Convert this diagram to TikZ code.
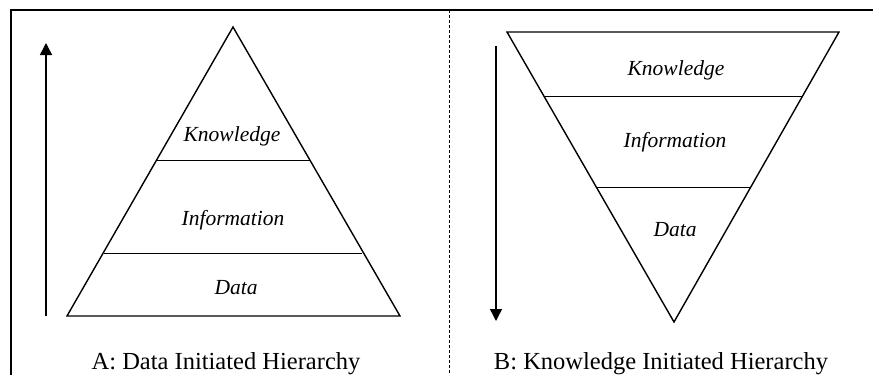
\documentclass[tikz,border=0pt]{standalone}
\usepackage{fontspec}
\setmainfont{Liberation Serif}
\usetikzlibrary{arrows.meta}
\begin{document}
\begin{tikzpicture}[x=1pt,y=-1pt,
  outline/.style={line width=1.4pt, line join=miter},
  layer/.style={line width=0.8pt},
  tier/.style={font=\fontsize{21.5}{24}\selectfont\itshape, inner sep=0pt, anchor=base},
  caption/.style={font=\fontsize{24.5}{27}\selectfont, inner sep=0pt, anchor=base},
  flow/.style={line width=1.4pt, -{Triangle[length=12pt,width=12pt]}}]
\useasboundingbox (0,0) rectangle (873,375);

% outer frame (top and left edges) and the dashed divider
\draw[line width=1.4pt] (11,375) -- (11,10) -- (873,10);
\draw[line width=0.7pt, dash pattern=on 3pt off 2pt] (449,10) -- (449,375);

% A: upright pyramid
\coordinate (aTop) at (233,27);
\coordinate (aBL) at (67,316);
\coordinate (aBR) at (400,316);
\draw[outline] (aBL) -- (aTop) -- (aBR) -- cycle;
\coordinate (aKL) at (157,160);
\coordinate (aKR) at (310,160);
\coordinate (aDL) at (104,253);
\coordinate (aDR) at (362,253);
\draw[layer] (aKL) -- (aKR);
\draw[layer] (aDL) -- (aDR);
\node[tier] (aK) at (232,141.5) {Knowledge};
\node[tier] (aI) at (233,225) {Information};
\node[tier] (aD) at (236,294) {Data};

\coordinate (aArrowStart) at (46,316);
\coordinate (aArrowEnd) at (46,43);
\draw[flow] (aArrowStart) -- (aArrowEnd);

\node[caption] (capA) at (226,369) {A: Data Initiated Hierarchy};

% B: inverted pyramid
\coordinate (bTL) at (507,32);
\coordinate (bTR) at (839,32);
\coordinate (bBot) at (674,322);
\draw[outline] (bTL) -- (bTR) -- (bBot) -- cycle;
\coordinate (bKL) at (544,96);
\coordinate (bKR) at (803,96);
\coordinate (bDL) at (596,187);
\coordinate (bDR) at (751,187);
\draw[layer] (bKL) -- (bKR);
\draw[layer] (bDL) -- (bDR);
\node[tier] (bK) at (676,75) {Knowledge};
\node[tier] (bI) at (675,147) {Information};
\node[tier] (bD) at (675,236) {Data};

\coordinate (bArrowStart) at (496,46);
\coordinate (bArrowEnd) at (496,321);
\draw[flow] (bArrowStart) -- (bArrowEnd);

\node[caption] (capB) at (661,369) {B: Knowledge Initiated Hierarchy};
\end{tikzpicture}
\end{document}
